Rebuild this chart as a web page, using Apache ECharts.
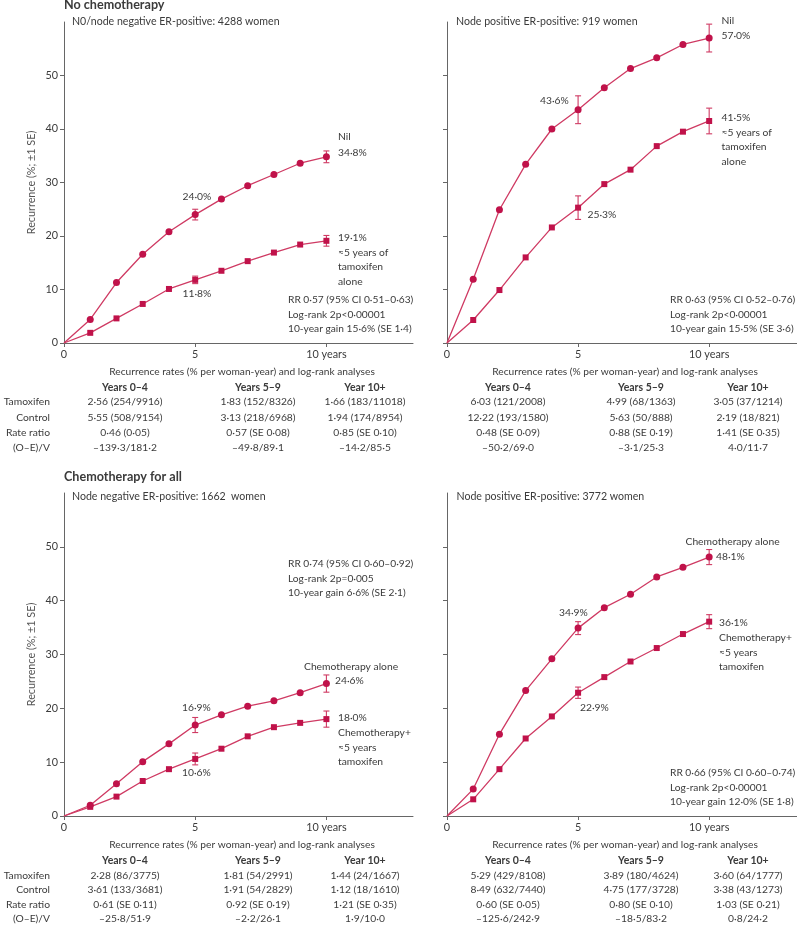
<!DOCTYPE html>
<html><head><meta charset="utf-8">
<script src="https://cdn.jsdelivr.net/npm/echarts@6/dist/echarts.min.js"></script>
<style>html,body{margin:0;padding:0;background:#fff}#c{width:797px;height:926px}</style>
</head><body><div id="c"></div>
<script>
// ---------- data ----------
const years = [0,1,2,3,4,5,6,7,8,9,10];
const tlNil = [0,4.4,11.3,16.6,20.8,24.0,26.9,29.4,31.5,33.6,34.8];
const tlTam = [0,1.9,4.6,7.3,10.1,11.8,13.5,15.3,16.9,18.4,19.1];
const trNil = [0,11.9,24.9,33.4,40.0,43.6,47.7,51.3,53.3,55.8,57.0];
const trTam = [0,4.3,9.9,16.0,21.6,25.3,29.7,32.4,36.8,39.5,41.5];
const blChemo = [0,2.0,6.0,10.1,13.4,16.9,18.8,20.4,21.4,22.9,24.6];
const blChemoTam = [0,1.7,3.6,6.5,8.7,10.6,12.5,14.8,16.5,17.3,18.0];
const brChemo = [0,5.0,15.2,23.3,29.2,34.9,38.7,41.2,44.4,46.2,48.1];
const brChemoTam = [0,3.1,8.7,14.4,18.5,22.9,25.8,28.7,31.2,33.8,36.1];
// standard errors shown at years 5 and 10
const seYears = [5,10];
const tlNilSE = [1.0,1.1], tlTamSE = [0.7,1.0];
const trNilSE = [2.6,2.6], trTamSE = [2.2,2.4];
const blChemoSE = [1.4,1.6], blChemoTamSE = [1.1,1.5];
const brChemoSE = [1.2,1.4], brChemoTamSE = [1.05,1.3];
const yTicks = [0,10,20,30,40,50];
const xTicks = [0,5,10];

const rowLabels = ['Tamoxifen','Control','Rate ratio','(O–E)/V'];
const colHeads = ['Years 0–4','Years 5–9','Year 10+'];
const tlTable = [
 ['2·56 (254/9916)','1·83 (152/8326)','1·66 (183/11018)'],
 ['5·55 (508/9154)','3·13 (218/6968)','1·94 (174/8954)'],
 ['0·46 (0·05)','0·57 (SE 0·08)','0·85 (SE 0·10)'],
 ['–139·3/181·2','–49·8/89·1','–14·2/85·5']];
const trTable = [
 ['6·03 (121/2008)','4·99 (68/1363)','3·05 (37/1214)'],
 ['12·22 (193/1580)','5·63 (50/888)','2·19 (18/821)'],
 ['0·48 (SE 0·09)','0·88 (SE 0·19)','1·41 (SE 0·35)'],
 ['–50·2/69·0','–3·1/25·3','4·0/11·7']];
const blTable = [
 ['2·28 (86/3775)','1·81 (54/2991)','1·44 (24/1667)'],
 ['3·61 (133/3681)','1·91 (54/2829)','1·12 (18/1610)'],
 ['0·61 (SE 0·11)','0·92 (SE 0·19)','1·21 (SE 0·35)'],
 ['–25·8/51·9','–2·2/26·1','1·9/10·0']];
const brTable = [
 ['5·29 (429/8108)','3·89 (180/4624)','3·60 (64/1777)'],
 ['8·49 (632/7440)','4·75 (177/3728)','3·38 (43/1273)'],
 ['0·60 (SE 0·05)','0·80 (SE 0·10)','1·03 (SE 0·21)'],
 ['–125·6/242·9','–18·5/83·2','0·8/24·2']];

// ---------- style ----------
const RED = '#c0124a', RED_L = '#cf3a63';
const TXT = '#3b3b3b', AX = '#666';
const FONT = 'Lato, "Open Sans", sans-serif';
const FS = 10.3;

const grids = [
  {left:64, top:22, width:349, height:321},
  {left:447, top:22, width:350, height:321},
  {left:64, top:493, width:349, height:323},
  {left:447, top:493, width:350, height:323}
];
const xMax = [13.3,13.35,13.3,13.35];

function xAxis(i){
  return {type:'value', gridIndex:i, min:0, max:xMax[i],
    axisLine:{lineStyle:{color:AX,width:1}},
    axisTick:{show:true,length:4,customValues:xTicks,lineStyle:{color:AX}},
    axisLabel:{customValues:xTicks,color:TXT,fontFamily:FONT,fontSize:10.8,margin:6,
      formatter:v=> v===10?'10 years':String(v)},
    splitLine:{show:false}};
}
function yAxis(i, labels){
  return {type:'value', gridIndex:i, min:0, max:60,
    name: labels?'Recurrence (%; ±1 SE)':'', nameLocation:'middle', nameGap:27,
    nameTextStyle:{color:'#555',fontFamily:FONT,fontSize:10.8},
    axisLine:{show:true,lineStyle:{color:AX,width:1}},
    axisTick:{show:true,length:4,customValues:yTicks,lineStyle:{color:AX}},
    axisLabel:{show:labels,customValues:yTicks,color:TXT,fontFamily:FONT,fontSize:10.8,margin:6},
    splitLine:{show:false}};
}
function lineSeries(i, vals, sym){
  return {type:'line', xAxisIndex:i, yAxisIndex:i, silent:true, animation:false,
    symbol:sym, symbolSize: sym==='rect'?6:7,
    lineStyle:{color:RED_L,width:1.3}, itemStyle:{color:RED},
    data: vals.map((v,k)=> k===0 ? {value:[years[k],v],symbol:'none'} : [years[k],v])};
}
function errSeries(i, vals, se){
  const d = seYears.map((yr,k)=>[yr, vals[years.indexOf(yr)]-se[k], vals[years.indexOf(yr)]+se[k]]);
  return {type:'custom', xAxisIndex:i, yAxisIndex:i, silent:true, animation:false,
    data:d, z:1,
    renderItem:(params, api)=>{
      const lo = api.coord([api.value(0), api.value(1)]);
      const hi = api.coord([api.value(0), api.value(2)]);
      const w = 3;
      const st = {stroke:RED_L, lineWidth:1.1};
      return {type:'group', children:[
        {type:'line', shape:{x1:lo[0],y1:lo[1],x2:hi[0],y2:hi[1]}, style:st},
        {type:'line', shape:{x1:lo[0]-w,y1:lo[1],x2:lo[0]+w,y2:lo[1]}, style:st},
        {type:'line', shape:{x1:hi[0]-w,y1:hi[1],x2:hi[0]+w,y2:hi[1]}, style:st}
      ]};
    }};
}

// ---------- text helpers ----------
function t(x,y,text,o){
  o = o||{};
  return {type:'text', x:x, y:y, silent:true, z:10,
    style:{text:text, fill:o.fill||TXT, align:o.align||'left', verticalAlign:'middle',
      font:(o.bold?'bold ':'')+(o.fs||FS)+'px '+FONT}};
}
function lines(x,y0,dy,arr,o){ return arr.map((s,k)=>t(x,y0+k*dy,s,o)); }
function table(ox, yRec, yHead, yRows, data, withLabels){
  const cols = [ox+61, ox+194, ox+301];
  const out = [];
  out.push(t(ox+178, yRec, 'Recurrence rates (% per woman-year) and log-rank analyses', {align:'center', fs:10.2}));
  colHeads.forEach((h,k)=>out.push(t(cols[k], yHead, h, {align:'center', bold:true, fs:10.5})));
  data.forEach((row,r)=>{
    if(withLabels) out.push(t(50, yRows[r], rowLabels[r], {align:'right'}));
    row.forEach((s,k)=>out.push(t(cols[k], yRows[r], s, {align:'center'})));
  });
  return out;
}
const SUB = {fs:10.6};
const RR = {fs:10.2};

const graphics = [].concat(
  [t(64,5,'No chemotherapy',{bold:true,fs:12.6}),
   t(72,22,'N0/node negative ER-positive: 4288 women',SUB),
   t(338,137,'Nil'), t(338,153,'34·8%'),
   t(182.5,197,'24·0%'),
   t(182.5,294,'11·8%')],
  lines(338,238,14.4,['19·1%','≈5 years of','tamoxifen','alone']),
  lines(288,300,14.4,['RR 0·57 (95% CI 0·51–0·63)','Log-rank 2p<0·00001','10-year gain 15·6% (SE 1·4)'],RR),
  table(64, 372, 388, [402,417.5,432.5,447.5], tlTable, true),

  [t(456,22,'Node positive ER-positive: 919 women',SUB),
   t(721.5,21,'Nil'), t(721.5,36,'57·0%'),
   t(540,101,'43·6%'),
   t(587.5,215,'25·3%')],
  lines(721.5,118,14.4,['41·5%','≈5 years of','tamoxifen','alone']),
  lines(670,300,14.4,['RR 0·63 (95% CI 0·52–0·76)','Log-rank 2p<0·00001','10-year gain 15·5% (SE 3·6)'],RR),
  table(447, 372, 388, [402,417.5,432.5,447.5], trTable, false),

  [t(64,477,'Chemotherapy for all',{bold:true,fs:12.6}),
   t(72,497,'Node negative ER-positive: 1662  women',SUB),
   t(304,667,'Chemotherapy alone'), t(335,681,'24·6%'),
   t(182,708,'16·9%'),
   t(182,773,'10·6%')],
  lines(338,718,14.6,['18·0%','Chemotherapy+','≈5 years','tamoxifen']),
  lines(288,564,14.5,['RR 0·74 (95% CI 0·60–0·92)','Log-rank 2p=0·005','10-year gain 6·6% (SE 2·1)'],RR),
  table(64, 845, 860.5, [876,890,904.5,918.5], blTable, true),

  [t(456.5,497,'Node positive ER-positive: 3772 women',SUB),
   t(685.5,542,'Chemotherapy alone'), t(716,557,'48·1%'),
   t(559,613,'34·9%'),
   t(580,708,'22·9%')],
  lines(719,623,14.7,['36·1%','Chemotherapy+','≈5 years','tamoxifen']),
  lines(670,773,14.5,['RR 0·66 (95% CI 0·60–0·74)','Log-rank 2p<0·00001','10-year gain 12·0% (SE 1·8)'],RR),
  table(447, 845, 860.5, [876,890,904.5,918.5], brTable, false)
);

const chart = echarts.init(document.getElementById('c'), null, {renderer:'canvas'});
chart.setOption({
  animation:false,
  backgroundColor:'#fff',
  grid: grids,
  xAxis: [0,1,2,3].map(xAxis),
  yAxis: [yAxis(0,true), yAxis(1,false), yAxis(2,true), yAxis(3,false)],
  series: [
    lineSeries(0,tlNil,'circle'), lineSeries(0,tlTam,'rect'),
    errSeries(0,tlNil,tlNilSE), errSeries(0,tlTam,tlTamSE),
    lineSeries(1,trNil,'circle'), lineSeries(1,trTam,'rect'),
    errSeries(1,trNil,trNilSE), errSeries(1,trTam,trTamSE),
    lineSeries(2,blChemo,'circle'), lineSeries(2,blChemoTam,'rect'),
    errSeries(2,blChemo,blChemoSE), errSeries(2,blChemoTam,blChemoTamSE),
    lineSeries(3,brChemo,'circle'), lineSeries(3,brChemoTam,'rect'),
    errSeries(3,brChemo,brChemoSE), errSeries(3,brChemoTam,brChemoTamSE)
  ],
  graphic: graphics
});
</script>
</body></html>
